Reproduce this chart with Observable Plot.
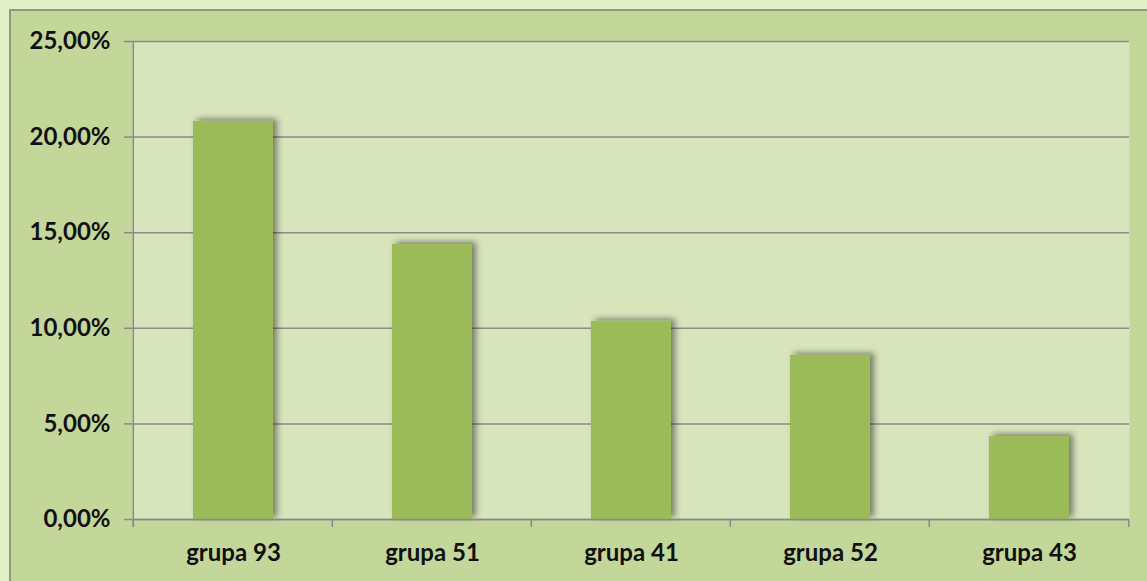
<!DOCTYPE html>
<html>
<head>
<meta charset="utf-8">
<script src="https://cdn.jsdelivr.net/npm/d3@7"></script>
<script src="https://cdn.jsdelivr.net/npm/@observablehq/plot@0.6"></script>
<style>
  html, body { margin: 0; padding: 0; }
  body { width: 1147px; height: 581px; overflow: hidden; background: #e3f0c6; position: relative; font-family: Lato, "Open Sans", sans-serif; }
  #panel { position: absolute; left: 9px; top: 9px; width: 1200px; height: 700px; background: #c4d79b; border: 2px solid #8f9a84; box-sizing: border-box; }
  #chart { position: absolute; left: 0; top: 0; }
</style>
</head>
<body>
<div id="panel"></div>
<div id="chart"></div>
<script>
const categories = ["grupa 93", "grupa 51", "grupa 41", "grupa 52", "grupa 43"];
const values = [0.2082, 0.1438, 0.1036, 0.0858, 0.0434];
const yTicks = [0, 0.05, 0.10, 0.15, 0.20, 0.25];

const data = categories.map((c, i) => ({category: c, value: values[i]}));
const fmt = d => (d * 100).toFixed(2).replace(".", ",") + "%";

const chart = Plot.plot({
  width: 1147,
  height: 581,
  marginLeft: 132,
  marginRight: 18,
  marginTop: 41,
  marginBottom: 62,
  style: {background: "transparent", fontFamily: "Lato, 'Open Sans', sans-serif", fontSize: "24px", fontWeight: "bold", color: "#111"},
  x: {domain: categories, paddingInner: 0.6, paddingOuter: 0.3, label: null, axis: null},
  y: {domain: [0, 0.25], label: null, axis: null},
  marks: [
    Plot.frame({fill: "#d8e4bc", stroke: null}),
    Plot.gridY(yTicks, {stroke: "#8a8a8a", strokeOpacity: 1, strokeWidth: 1.5}),
    Plot.barY(data, {x: "category", y: "value", fill: "#9bbb59"}),
    Plot.axisY(yTicks, {tickFormat: fmt, tickSize: 8, tickPadding: 14, stroke: "#8a8a8a", strokeWidth: 1.5, fontSize: 24, fill: "#111"}),
    Plot.axisX({tickSize: 0, tickPadding: 24, fontSize: 24, fill: "#111"}),
    Plot.ruleY([0], {stroke: "#8a8a8a", strokeWidth: 1.5})
  ]
});
document.getElementById("chart").appendChild(chart);

// Decorations: left axis line, band-boundary ticks, bar shadows
const svg = d3.select(chart);
const xs = chart.scale("x");
const ys = chart.scale("y");
const y0 = ys.apply(0), y1 = ys.apply(0.25);
const bounds = categories.map(c => xs.apply(c) - xs.step * xs.paddingInner / 2);
bounds.push(xs.apply(categories[categories.length - 1]) + xs.bandwidth + xs.step * xs.paddingInner / 2);
const g = svg.append("g").attr("stroke", "#8a8a8a").attr("stroke-width", 1.5);
g.append("line").attr("x1", bounds[0]).attr("x2", bounds[0]).attr("y1", y1).attr("y2", y0 + 8);
bounds.forEach(b => g.append("line").attr("x1", b).attr("x2", b).attr("y1", y0).attr("y2", y0 + 8));

const defs = svg.insert("defs", ":first-child");
const f = defs.append("filter").attr("id", "shadow").attr("x", "-20%").attr("y", "-20%").attr("width", "150%").attr("height", "150%");
f.append("feDropShadow").attr("dx", 4).attr("dy", -2).attr("stdDeviation", 3).attr("flood-color", "#000").attr("flood-opacity", 0.45);
svg.selectAll("rect").filter(function() { return this.parentNode.getAttribute("aria-label") === "bar"; }).attr("filter", "url(#shadow)");
</script>
</body>
</html>
